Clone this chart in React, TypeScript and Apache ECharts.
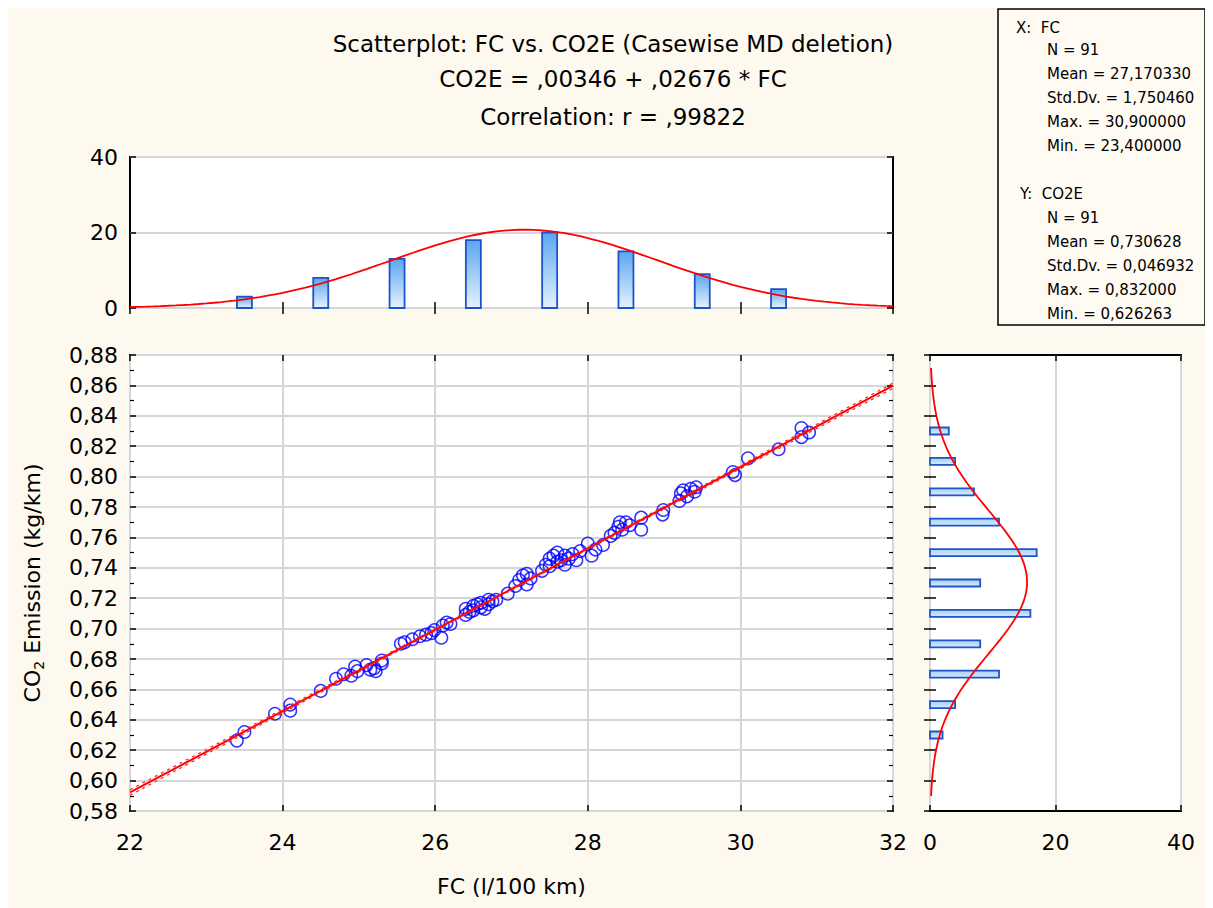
import React, { useEffect, useRef } from "react";
import * as echarts from "echarts";

// ---- data ----
const fcValues = [
  23.4, 23.5, 23.9, 24.1, 24.1, 24.5, 24.7, 24.8, 24.9, 24.95, 24.98,
  25.1, 25.15, 25.2, 25.22, 25.3, 25.3, 25.55, 25.6, 25.7, 25.8, 25.88, 25.95, 25.99,
  26.08, 26.1, 26.15, 26.2, 26.4, 26.4, 26.45, 26.5, 26.5, 26.55, 26.6, 26.6, 26.65, 26.7, 26.7, 26.75, 26.8, 26.95,
  27.05, 27.1, 27.15, 27.2, 27.25, 27.2, 27.4, 27.45, 27.5, 27.5, 27.55, 27.6, 27.6, 27.65, 27.7, 27.7, 27.75, 27.8, 27.85, 27.9,
  28.0, 28.05, 28.1, 28.2, 28.3, 28.35, 28.4, 28.42, 28.45, 28.5, 28.55, 28.7, 28.7, 28.98, 28.99,
  29.2, 29.22, 29.25, 29.3, 29.35, 29.4, 29.42, 29.9, 29.93,
  30.1, 30.5, 30.8, 30.8, 30.9,
];
const co2Values = [
  0.6263, 0.632, 0.644, 0.65, 0.646, 0.659, 0.667, 0.67, 0.669, 0.675, 0.672,
  0.676, 0.673, 0.674, 0.672, 0.679, 0.677, 0.69, 0.691, 0.693, 0.695, 0.696, 0.697, 0.699,
  0.694, 0.702, 0.704, 0.703, 0.709, 0.713, 0.711, 0.715, 0.712, 0.716, 0.714, 0.717, 0.713, 0.719, 0.716, 0.718, 0.719, 0.723,
  0.728, 0.732, 0.735, 0.729, 0.733, 0.736, 0.738, 0.742, 0.746, 0.741, 0.748, 0.744, 0.75, 0.745, 0.748, 0.742, 0.746, 0.749, 0.745, 0.751,
  0.756, 0.748, 0.752, 0.755, 0.761, 0.763, 0.767, 0.77, 0.765, 0.77, 0.768, 0.773, 0.765, 0.775, 0.778,
  0.784, 0.789, 0.791, 0.787, 0.792, 0.79, 0.793, 0.803, 0.801,
  0.812, 0.818, 0.832, 0.826, 0.829,
];
const fcBinCenters = [23.5, 24.5, 25.5, 26.5, 27.5, 28.5, 29.5, 30.5];
const fcBinCounts = [3, 8, 13, 18, 20, 15, 9, 5];
const co2BinCenters = [0.63, 0.65, 0.67, 0.69, 0.71, 0.73, 0.75, 0.77, 0.79, 0.81, 0.83];
const co2BinCounts = [2, 4, 11, 8, 16, 8, 17, 11, 7, 4, 3];

const titleLines = [
  "Scatterplot: FC vs. CO2E (Casewise MD deletion)",
  "CO2E = ,00346 + ,02676 * FC",
  "Correlation: r = ,99822",
];
const statsXHead = "X:  FC";
const statsXLines = ["N = 91", "Mean = 27,170330", "Std.Dv. = 1,750460", "Max. = 30,900000", "Min. = 23,400000"];
const statsYHead = "Y:  CO2E";
const statsYLines = ["N = 91", "Mean = 0,730628", "Std.Dv. = 0,046932", "Max. = 0,832000", "Min. = 0,626263"];

const intercept = 0.00346;
const slope = 0.02676;
const rCoef = 0.99822;
const nObs = 91;
const fcMean = 27.17033;
const fcSd = 1.75046;
const co2Mean = 0.730628;
const co2Sd = 0.046932;
const fcBinWidth = 1;
const co2BinWidth = 0.02;

const FONT = "DejaVu Sans";
const BG = "#fef9ee";

function normalPdf(x: number, m: number, s: number) {
  return Math.exp(-0.5 * ((x - m) / s) ** 2) / (s * Math.sqrt(2 * Math.PI));
}

export default function App() {
  const ref = useRef<HTMLDivElement>(null);
  useEffect(() => {
    if (!ref.current) return;
    const chart = echarts.init(ref.current, undefined, { renderer: "svg" });

    const scatterData = fcValues.map((x, i) => [x, co2Values[i]]);
    const lineData = [22, 32].map((x) => [x, intercept + slope * x]);
    const s = co2Sd * Math.sqrt(((1 - rCoef * rCoef) * (nObs - 1)) / (nObs - 2));
    const sxx = (nObs - 1) * fcSd * fcSd;
    const tVal = 1.987;
    const bandX: number[] = [];
    for (let x = 22; x <= 32.0001; x += 0.5) bandX.push(x);
    const half = (x: number) => tVal * s * Math.sqrt(1 / nObs + ((x - fcMean) ** 2) / sxx);
    const upper = bandX.map((x) => [x, intercept + slope * x + half(x)]);
    const lower = bandX.map((x) => [x, intercept + slope * x - half(x)]);

    const topCurve: number[][] = [];
    for (let x = 22; x <= 32.0001; x += 0.1) topCurve.push([x, nObs * fcBinWidth * normalPdf(x, fcMean, fcSd)]);
    const rightCurve: number[][] = [];
    for (let y = co2Mean - 3 * co2Sd; y <= co2Mean + 3 * co2Sd + 1e-9; y += co2Sd / 20)
      rightCurve.push([nObs * co2BinWidth * normalPdf(y, co2Mean, co2Sd), y]);

    const gridLine = { show: true, lineStyle: { color: "#d6d6d6", width: 2 } };
    const tick = { show: true, inside: true, length: 6, lineStyle: { color: "#000", width: 1.5 } };
    const noLabel = { show: false };
    const label = { color: "#000", fontSize: 22, fontFamily: FONT };

    const statFont = `15px ${FONT}`;
    const statsTexts: any[] = [];
    statsTexts.push({ type: "text", x: 1008, y: 20, style: { text: statsXHead, font: statFont, fill: "#000", textVerticalAlign: "middle" } });
    statsXLines.forEach((t, i) =>
      statsTexts.push({ type: "text", x: 1039, y: 42 + i * 24, style: { text: t, font: statFont, fill: "#000", textVerticalAlign: "middle" } })
    );
    statsTexts.push({ type: "text", x: 1012, y: 186, style: { text: statsYHead, font: statFont, fill: "#000", textVerticalAlign: "middle" } });
    statsYLines.forEach((t, i) =>
      statsTexts.push({ type: "text", x: 1039, y: 210 + i * 24, style: { text: t, font: statFont, fill: "#000", textVerticalAlign: "middle" } })
    );

    const topGrad = new echarts.graphic.LinearGradient(0, 0, 0, 1, [
      { offset: 0, color: "#5aa6f0" },
      { offset: 1, color: "#e6f2fd" },
    ]);
    const rightGrad = new echarts.graphic.LinearGradient(0, 0, 0, 1, [
      { offset: 0, color: "#a9d0f6" },
      { offset: 1, color: "#d6eafc" },
    ]);

    const option: any = {
      animation: false,
      backgroundColor: BG,
      textStyle: { fontFamily: FONT },
      grid: [
        { left: 122, top: 347, width: 763, height: 456, show: true, backgroundColor: "#fff", borderColor: "#000", borderWidth: 2 },
        { left: 122, top: 149, width: 763, height: 151, show: true, backgroundColor: "#fff", borderColor: "#000", borderWidth: 2 },
        { left: 922, top: 347, width: 251, height: 456, show: true, backgroundColor: "#fff", borderColor: "#000", borderWidth: 2 },
      ],
      xAxis: [
        {
          gridIndex: 0, type: "value", min: 22, max: 32, interval: 2,
          axisLine: { show: false }, axisTick: tick, splitLine: gridLine,
          axisLabel: { ...label, margin: 20 },
          name: "FC (l/100 km)", nameLocation: "middle", nameGap: 64,
          nameTextStyle: { color: "#000", fontSize: 22, fontFamily: FONT },
        },
        { gridIndex: 0, type: "value", position: "top", min: 22, max: 32, interval: 2, axisLine: { show: false }, axisTick: tick, splitLine: { show: false }, axisLabel: noLabel },
        { gridIndex: 1, type: "value", min: 22, max: 32, interval: 2, axisLine: { show: false }, axisTick: tick, splitLine: { show: false }, axisLabel: noLabel },
        { gridIndex: 1, type: "value", position: "top", min: 22, max: 32, interval: 2, axisLine: { show: false }, axisTick: tick, splitLine: { show: false }, axisLabel: noLabel },
        { gridIndex: 2, type: "value", min: 0, max: 40, interval: 20, axisLine: { show: false }, axisTick: tick, splitLine: gridLine, axisLabel: { ...label, margin: 20 } },
        { gridIndex: 2, type: "value", position: "top", min: 0, max: 40, interval: 20, axisLine: { show: false }, axisTick: tick, splitLine: { show: false }, axisLabel: noLabel },
      ],
      yAxis: [
        {
          gridIndex: 0, type: "value", min: 0.58, max: 0.88, interval: 0.02,
          axisLine: { show: false }, axisTick: tick, splitLine: gridLine,
          minorTick: { show: true, splitNumber: 2, length: 4, lineStyle: { color: "#000", width: 1.2 } },
          axisLabel: { ...label, margin: 12, formatter: (v: number) => v.toFixed(2).replace(".", ",") },
          name: "CO{s|2} Emission (kg/km)", nameLocation: "middle", nameGap: 84, nameRotate: 90,
          nameTextStyle: { color: "#000", fontSize: 22, fontFamily: FONT, rich: { s: { fontSize: 14, fontFamily: FONT, color: "#000", padding: [14, 0, 0, 0] } } },
        },
        {
          gridIndex: 0, type: "value", position: "right", min: 0.58, max: 0.88, interval: 0.02,
          axisLine: { show: false }, axisTick: tick, splitLine: { show: false }, axisLabel: noLabel,
          minorTick: { show: true, splitNumber: 2, length: 4, lineStyle: { color: "#000", width: 1.2 } },
        },
        { gridIndex: 1, type: "value", min: 0, max: 40, interval: 20, axisLine: { show: false }, axisTick: tick, splitLine: gridLine, axisLabel: { ...label, margin: 12 } },
        { gridIndex: 1, type: "value", position: "right", min: 0, max: 40, interval: 20, axisLine: { show: false }, axisTick: tick, splitLine: { show: false }, axisLabel: noLabel },
        { gridIndex: 2, type: "value", min: 0.58, max: 0.88, interval: 0.02, axisLine: { show: false }, axisTick: tick, splitLine: { show: false }, axisLabel: noLabel },
        { gridIndex: 2, type: "value", position: "right", min: 0.58, max: 0.88, interval: 0.02, axisLine: { show: false }, axisTick: tick, splitLine: { show: false }, axisLabel: noLabel },
      ],
      series: [
        {
          type: "scatter", xAxisIndex: 0, yAxisIndex: 0, data: scatterData, symbol: "circle", symbolSize: 12.5, z: 3,
          itemStyle: { color: "rgba(0,0,0,0)", borderColor: "#0000ff", borderWidth: 1.5 },
        },
        { type: "line", xAxisIndex: 0, yAxisIndex: 0, data: lineData, showSymbol: false, symbol: "none", z: 4, lineStyle: { color: "#ff0000", width: 2 } },
        { type: "line", xAxisIndex: 0, yAxisIndex: 0, data: upper, symbol: "none", z: 4, lineStyle: { color: "#ff2020", width: 1.2, type: [3, 4] } },
        { type: "line", xAxisIndex: 0, yAxisIndex: 0, data: lower, symbol: "none", z: 4, lineStyle: { color: "#ff2020", width: 1.2, type: [3, 4] } },
        {
          type: "custom", xAxisIndex: 2, yAxisIndex: 2, z: 3,
          data: fcBinCenters.map((c, i) => [c, fcBinCounts[i]]),
          renderItem: (params: any, api: any) => {
            const p0 = api.coord([api.value(0), 0]);
            const p1 = api.coord([api.value(0), api.value(1)]);
            const w = 15;
            return {
              type: "rect",
              shape: { x: p0[0] - w / 2, y: p1[1], width: w, height: p0[1] - p1[1] },
              style: { fill: topGrad, stroke: "#1d55c8", lineWidth: 1.8 },
            };
          },
        },
        { type: "line", xAxisIndex: 2, yAxisIndex: 2, data: topCurve, symbol: "none", z: 4, lineStyle: { color: "#ff0000", width: 1.8 } },
        {
          type: "custom", xAxisIndex: 4, yAxisIndex: 4, z: 3,
          data: co2BinCenters.map((c, i) => [co2BinCounts[i], c]),
          renderItem: (params: any, api: any) => {
            const p0 = api.coord([0, api.value(1)]);
            const p1 = api.coord([api.value(0), api.value(1)]);
            const h = 7;
            return {
              type: "rect",
              shape: { x: p0[0], y: p0[1] - h / 2, width: p1[0] - p0[0], height: h },
              style: { fill: rightGrad, stroke: "#1d55c8", lineWidth: 1.8 },
            };
          },
        },
        { type: "line", xAxisIndex: 4, yAxisIndex: 4, data: rightCurve, symbol: "none", z: 4, lineStyle: { color: "#ff0000", width: 1.8 } },
      ],
      graphic: [
        ...titleLines.map((t, i) => ({
          type: "text", x: 605, y: [36, 71, 109][i],
          style: { text: t, font: `23px ${FONT}`, fill: "#000", textAlign: "center", textVerticalAlign: "middle" },
        })),
        { type: "rect", shape: { x: 990, y: 1, width: 207, height: 316 }, style: { fill: "#fffbf2", stroke: "#000", lineWidth: 1.5 }, z: 0 },
        ...statsTexts.map((t) => ({ ...t, z: 1 })),
      ],
    };
    chart.setOption(option);
    return () => chart.dispose();
  }, []);
  return <div ref={ref} style={{ width: 1205, height: 900, background: BG }} />;
}
